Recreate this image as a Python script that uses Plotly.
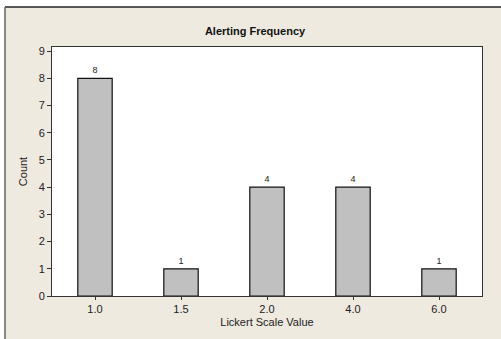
import plotly.graph_objects as go

categories = ["1.0", "1.5", "2.0", "4.0", "6.0"]
counts = [8, 1, 4, 4, 1]
y_ticks = list(range(0, 10))

W, H = 501, 339
L, R, T, B = 52, 19, 47, 43
pw, ph = W - L - R, H - T - B

def px_x(p):
    return (p - L) / pw

def px_y(p):
    return (H - B - p) / ph

fig = go.Figure()
fig.add_trace(go.Bar(
    x=categories, y=counts, width=0.4,
    marker=dict(color="#C0C0C0", line=dict(color="#111111", width=1.2)),
    text=[str(c) for c in counts], textposition="outside",
    textfont=dict(size=9, color="#222222", family="Liberation Sans"),
    cliponaxis=False,
))

beige = "#EEEAE0"
shapes = [
    dict(type="rect", xref="paper", yref="paper", x0=px_x(-5), x1=px_x(W + 5), y0=px_y(7), y1=px_y(-5),
         fillcolor="white", line=dict(width=0), layer="below"),
    dict(type="rect", xref="paper", yref="paper", x0=px_x(-5), x1=px_x(5), y0=px_y(H + 5), y1=px_y(-5),
         fillcolor="white", line=dict(width=0), layer="below"),
    dict(type="line", xref="paper", yref="paper", x0=px_x(5), x1=px_x(W + 2), y0=px_y(7), y1=px_y(7),
         line=dict(color="#222222", width=1.5)),
    dict(type="line", xref="paper", yref="paper", x0=px_x(5), x1=px_x(5), y0=px_y(7), y1=px_y(H + 2),
         line=dict(color="#666666", width=1.5)),
]

fig.update_layout(
    template="none",
    width=W, height=H,
    margin=dict(l=L, r=R, t=T, b=B, autoexpand=False),
    paper_bgcolor=beige, plot_bgcolor="white",
    font=dict(family="Liberation Sans", color="#222222", size=11),
    title=dict(text="<b>Alerting Frequency</b>", xref="container", x=0.509, xanchor="center",
               yref="container", y=1 - 31 / H, yanchor="middle", font=dict(size=11, color="#111111")),
    showlegend=False,
    bargap=0.6,
    shapes=shapes,
    xaxis=dict(type="category", range=[-0.5, 4.5], showline=True, mirror=True, linecolor="#333333", linewidth=1,
               ticks="outside", ticklen=3, tickcolor="#333333", showgrid=False, zeroline=False,
               automargin=False,
               title=dict(text="Lickert Scale Value", standoff=4, font=dict(size=11)),
               tickfont=dict(size=11)),
    yaxis=dict(range=[0, 9.15], tickvals=y_ticks, showline=True, mirror=True, linecolor="#333333", linewidth=1,
               ticks="outside", ticklen=4, tickcolor="#333333", showgrid=False, zeroline=False,
               automargin=False,
               title=dict(text="Count", standoff=8, font=dict(size=11)),
               tickfont=dict(size=11)),
)

fig.write_html("out.html", config={"displayModeBar": False},
               post_script="document.body.style.margin='0';document.body.style.overflow='hidden';")
